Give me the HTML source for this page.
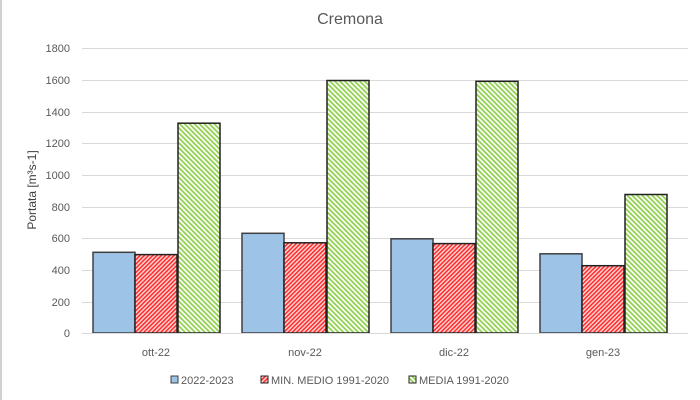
<!DOCTYPE html><html><head><style>body{margin:0;background:#fff}svg{display:block}</style></head><body>
<svg width="700" height="400" xmlns="http://www.w3.org/2000/svg" font-family="Liberation Sans, sans-serif">
<defs>
<pattern id="r" width="3" height="3" patternUnits="userSpaceOnUse" patternTransform="rotate(45)"><rect width="3" height="3" fill="#ffd0d0"/><rect width="1.4" height="3" fill="#f22"/></pattern>
<pattern id="g" width="3.5" height="3.5" patternUnits="userSpaceOnUse" patternTransform="rotate(-45)"><rect width="3.5" height="3.5" fill="#fff"/><rect width="1.8" height="3.5" fill="#92d050"/></pattern>
</defs>
<rect x="0" y="0" width="700" height="400" fill="#fff"/>
<line x1="1" y1="0" x2="1" y2="400" stroke="#d0d0d0" stroke-width="2"/>
<text x="350" y="24" font-size="16" fill="#595959" text-anchor="middle">Cremona</text>
<g stroke="#d9d9d9" stroke-width="1">
<line x1="82" x2="688" y1="48.5" y2="48.5"/><line x1="82" x2="688" y1="80.5" y2="80.5"/><line x1="82" x2="688" y1="112.5" y2="112.5"/><line x1="82" x2="688" y1="143.5" y2="143.5"/><line x1="82" x2="688" y1="175.5" y2="175.5"/><line x1="82" x2="688" y1="207.5" y2="207.5"/><line x1="82" x2="688" y1="238.5" y2="238.5"/><line x1="82" x2="688" y1="270.5" y2="270.5"/><line x1="82" x2="688" y1="302.5" y2="302.5"/>
</g>
<g font-size="11" fill="#595959" text-anchor="end">
<text x="70" y="52">1800</text><text x="70" y="84">1600</text><text x="70" y="116">1400</text><text x="70" y="147">1200</text><text x="70" y="179">1000</text><text x="70" y="211">800</text><text x="70" y="242">600</text><text x="70" y="274">400</text><text x="70" y="306">200</text><text x="70" y="337">0</text>
</g>
<text transform="translate(36,190) rotate(-90)" font-size="12" fill="#404040" text-anchor="middle">Portata [m³s-1]</text>
<g stroke="#404040" stroke-width="1.5">
<rect x="93" y="252.3" width="42" height="80.7" fill="#9dc3e6"/><rect x="135" y="254.6" width="42" height="78.4" fill="url(#r)" stroke="#222"/><rect x="178" y="123.2" width="42" height="209.8" fill="url(#g)" stroke="#222"/>
<rect x="242" y="233.3" width="42" height="99.7" fill="#9dc3e6"/><rect x="284" y="242.8" width="42" height="90.2" fill="url(#r)" stroke="#222"/><rect x="327" y="80.5" width="42" height="252.5" fill="url(#g)" stroke="#222"/>
<rect x="391" y="238.8" width="42" height="94.2" fill="#9dc3e6"/><rect x="433" y="243.6" width="42" height="89.4" fill="url(#r)" stroke="#222"/><rect x="476" y="81.3" width="42" height="251.7" fill="url(#g)" stroke="#222"/>
<rect x="540" y="253.8" width="42" height="79.2" fill="#9dc3e6"/><rect x="582" y="265.7" width="42" height="67.3" fill="url(#r)" stroke="#222"/><rect x="625" y="194.5" width="42" height="138.5" fill="url(#g)" stroke="#222"/>
</g>
<line x1="82" x2="688" y1="333.5" y2="333.5" stroke="#d9d9d9"/>
<g font-size="11" fill="#595959" text-anchor="middle">
<text x="156" y="356">ott-22</text><text x="305" y="356">nov-22</text><text x="454" y="356">dic-22</text><text x="603" y="356">gen-23</text>
</g>
<g font-size="11" fill="#595959">
<rect x="171" y="376" width="7" height="7" fill="#9dc3e6" stroke="#404040"/><text x="181" y="384">2022-2023</text>
<rect x="261" y="376" width="7" height="7" fill="url(#r)" stroke="#222"/><text x="271" y="384">MIN. MEDIO 1991-2020</text>
<rect x="409" y="376" width="7" height="7" fill="url(#g)" stroke="#222"/><text x="419" y="384">MEDIA 1991-2020</text>
</g>
</svg></body></html>
